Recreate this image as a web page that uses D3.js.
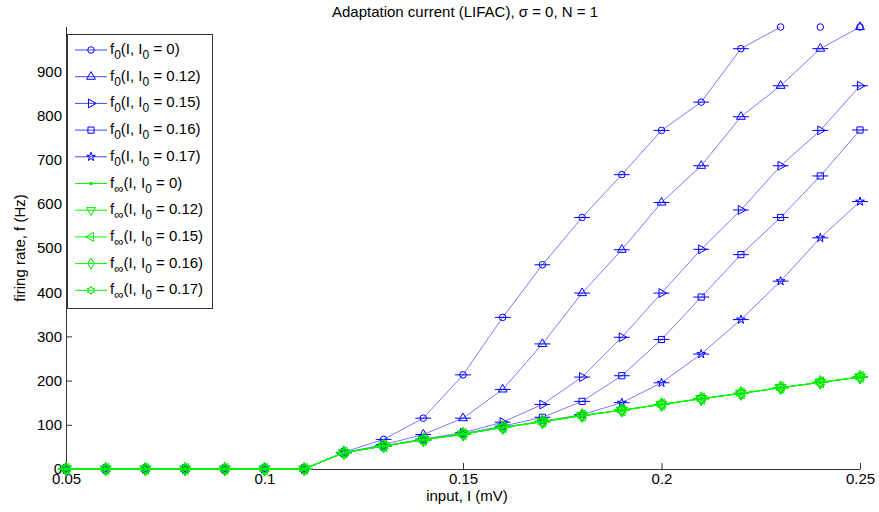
<!DOCTYPE html>
<html>
<head>
<meta charset="utf-8">
<script src="https://cdn.jsdelivr.net/npm/d3@7"></script>
<style>
  html, body { margin: 0; padding: 0; background: #fff; }
  svg { display: block; font-family: "Liberation Sans", Arial, Helvetica, sans-serif; }
</style>
</head>
<body>
<svg id="chart" width="879" height="512"></svg>
<script>
// Input current values (mV)
const inputI = [0.05, 0.06, 0.07, 0.08, 0.09, 0.10, 0.11, 0.12, 0.13, 0.14, 0.15,
                0.16, 0.17, 0.18, 0.19, 0.20, 0.21, 0.22, 0.23, 0.24, 0.25];

// Onset firing rate f0 for each adaptation offset I0 (Hz)
const f0_I0_000 = [0, 0, 0, 0, 0, 0, 0, 38, 67, 115, 213, 343, 462, 569, 666, 766, 830, 951, 1000, 1000, 1000];
const f0_I0_012 = [0, 0, 0, 0, 0, 0, 0, 37, 55, 78, 115, 180, 283, 398, 496, 603, 686, 797, 867, 951, 1000];
const f0_I0_015 = [0, 0, 0, 0, 0, 0, 0, 37, 52, 68, 82, 106, 146, 208, 298, 398, 497, 586, 686, 766, 867];
const f0_I0_016 = [0, 0, 0, 0, 0, 0, 0, 37, 52, 66, 80, 97, 117, 153, 211, 293, 389, 485, 569, 663, 767];
const f0_I0_017 = [0, 0, 0, 0, 0, 0, 0, 37, 52, 66, 79, 94, 108, 123, 150, 195, 260, 338, 425, 523, 605];

// Steady-state firing rate f_inf for each I0 (Hz)
const fInf_I0_000 = [0, 0, 0, 0, 0, 0, 0, 37, 52, 66, 79, 94, 107, 121, 133, 146, 159, 171, 184, 196, 208];
const fInf_I0_012 = [0, 0, 0, 0, 0, 0, 0, 37, 52, 66, 79, 94, 107, 121, 133, 146, 159, 171, 184, 196, 208];
const fInf_I0_015 = [0, 0, 0, 0, 0, 0, 0, 37, 52, 66, 79, 94, 107, 121, 133, 146, 159, 171, 184, 196, 208];
const fInf_I0_016 = [0, 0, 0, 0, 0, 0, 0, 37, 52, 66, 79, 94, 107, 121, 133, 146, 159, 171, 184, 196, 208];
const fInf_I0_017 = [0, 0, 0, 0, 0, 0, 0, 37, 52, 66, 79, 94, 107, 121, 133, 146, 159, 171, 184, 196, 208];

const i0Labels = ["0", "0.12", "0.15", "0.16", "0.17"];
const xTicks = [0.05, 0.1, 0.15, 0.2, 0.25];
const xTickLabels = ["0.05", "0.1", "0.15", "0.2", "0.25"];
const yTicks = [0, 100, 200, 300, 400, 500, 600, 700, 800, 900];

const series = [
  { kind: "f0",   i0: i0Labels[0], values: f0_I0_000,   marker: "circle" },
  { kind: "f0",   i0: i0Labels[1], values: f0_I0_012,   marker: "triUp" },
  { kind: "f0",   i0: i0Labels[2], values: f0_I0_015,   marker: "triRight" },
  { kind: "f0",   i0: i0Labels[3], values: f0_I0_016,   marker: "square" },
  { kind: "f0",   i0: i0Labels[4], values: f0_I0_017,   marker: "star" },
  { kind: "fInf", i0: i0Labels[0], values: fInf_I0_000, marker: "dot" },
  { kind: "fInf", i0: i0Labels[1], values: fInf_I0_012, marker: "triDown" },
  { kind: "fInf", i0: i0Labels[2], values: fInf_I0_015, marker: "triLeft" },
  { kind: "fInf", i0: i0Labels[3], values: fInf_I0_016, marker: "diamond" },
  { kind: "fInf", i0: i0Labels[4], values: fInf_I0_017, marker: "hexagram" }
];

const style = {
  f0:   { line: "#4646ff", lineOpacity: 0.8, mark: "#0000ff", cap: "#0000ff", markScale: 1 },
  fInf: { line: "#00ff00", lineOpacity: 1,   mark: "#00e600", cap: "#00f000", markScale: 1.25 }
};

const svg = d3.select("#chart");
const yMax = 1000;
const x = d3.scaleLinear().domain([0.05, 0.25]).range([66, 860]);
const y = d3.scaleLinear().domain([0, yMax]).range([469, 27]);
const capHalf = (x.domain()[1] - x.domain()[0]) / 100;

// Marker path generators
function hexagramPath(r) {
  const pts = [];
  for (let k = 0; k < 12; k++) {
    const a = -Math.PI / 2 + k * Math.PI / 6;
    const rr = k % 2 === 0 ? r : r * 0.55;
    pts.push([rr * Math.cos(a), rr * Math.sin(a)]);
  }
  return "M" + pts.map(p => p[0].toFixed(2) + "," + p[1].toFixed(2)).join("L") + "Z";
}
function drawMarker(g, type, cx, cy, color, k) {
  k = k || 1;
  const t = `translate(${cx},${cy})`;
  const sym = (s, size, rot) => g.append("path")
    .attr("d", d3.symbol(s, size * k * k)())
    .attr("transform", t + (rot ? ` rotate(${rot})` : ""))
    .attr("fill", "none").attr("stroke", color).attr("stroke-width", 1);
  switch (type) {
    case "circle":   sym(d3.symbolCircle, 34); break;
    case "triUp":    sym(d3.symbolTriangle, 34); break;
    case "triRight": sym(d3.symbolTriangle, 34, 90); break;
    case "triDown":  sym(d3.symbolTriangle, 34, 180); break;
    case "triLeft":  sym(d3.symbolTriangle, 34, -90); break;
    case "square":   sym(d3.symbolSquare, 38); break;
    case "diamond":  sym(d3.symbolDiamond, 36); break;
    case "star":     sym(d3.symbolStar, 24); break;
    case "dot":
      g.append("circle").attr("cx", cx).attr("cy", cy).attr("r", 1.8 * k).attr("fill", color);
      break;
    case "hexagram":
      g.append("path").attr("d", hexagramPath(4.2 * k)).attr("transform", t)
        .attr("fill", "none").attr("stroke", color).attr("stroke-width", 1);
      break;
  }
}

// Axes (ticks point inward)
const xAxis = d3.axisBottom(x).tickValues(xTicks)
  .tickFormat((d, i) => xTickLabels[i]).tickSizeInner(-6).tickSizeOuter(0).tickPadding(4);
const yAxis = d3.axisLeft(y).tickValues(yTicks)
  .tickSizeInner(-6).tickSizeOuter(0).tickPadding(4);

const gx = svg.append("g").attr("transform", `translate(0,${y(0)})`).call(xAxis);
const gy = svg.append("g").attr("transform", `translate(${x(0.05)},0)`).call(yAxis);
[gx, gy].forEach(g => {
  g.selectAll("path.domain").attr("stroke", "#333").attr("stroke-width", 1);
  g.selectAll(".tick line").attr("stroke", "#333");
  g.selectAll(".tick text").attr("fill", "#000").attr("font-size", 15)
    .attr("font-family", "Liberation Sans, Arial, sans-serif");
});
gy.select("path.domain").attr("d", `M0.5,${y(0)}V${y(yMax)}`);

// Data series
const plot = svg.append("g");
const seg = d3.line().x(d => x(d[0])).y(d => y(d[1]));
series.forEach(s => {
  const st = style[s.kind];
  const pts = inputI.map((xi, i) => [xi, s.values[i]]);
  const g = plot.append("g");
  // connecting line, leaving out stretches pinned at the upper limit
  let dPath = "";
  for (let i = 1; i < pts.length; i++) {
    if (pts[i - 1][1] >= yMax && pts[i][1] >= yMax) continue;
    dPath += seg([pts[i - 1], pts[i]]);
  }
  g.append("path").attr("d", dPath).attr("fill", "none")
    .attr("stroke", st.line).attr("stroke-opacity", st.lineOpacity).attr("stroke-width", 0.9);
  // error-bar caps
  pts.filter(p => p[1] < yMax).forEach(p => {
    g.append("line")
      .attr("x1", x(p[0] - capHalf)).attr("x2", x(p[0] + capHalf))
      .attr("y1", y(p[1])).attr("y2", y(p[1]))
      .attr("stroke", st.cap).attr("stroke-width", 1);
  });
  pts.forEach(p => drawMarker(g, s.marker, x(p[0]), y(p[1]), st.mark, st.markScale));
});

// Title and axis labels
svg.append("text").attr("x", 465).attr("y", 17).attr("text-anchor", "middle")
  .attr("font-size", 15).text("Adaptation current (LIFAC), σ = 0, N = 1");
svg.append("text").attr("x", 467).attr("y", 501).attr("text-anchor", "middle")
  .attr("font-size", 15).text("input, I (mV)");
svg.append("text").attr("transform", "translate(25,248) rotate(-90)")
  .attr("text-anchor", "middle").attr("font-size", 15).text("firing rate, f (Hz)");

// Legend
const lg = svg.append("g").attr("transform", "translate(67,34)");
const rowH = 26.7;
lg.append("rect").attr("x", 0.5).attr("y", 0.5).attr("width", 145).attr("height", 274)
  .attr("fill", "#fff").attr("stroke", "#333").attr("stroke-width", 1);
series.forEach((s, i) => {
  const st = style[s.kind];
  const cy = 16 + i * rowH;
  lg.append("line").attr("x1", 8).attr("x2", 40).attr("y1", cy).attr("y2", cy)
    .attr("stroke", st.line).attr("stroke-width", 1);
  drawMarker(lg, s.marker, 24, cy, st.mark);
  const t = lg.append("text").attr("x", 43).attr("y", cy + 4).attr("font-size", 15);
  t.append("tspan").text("f");
  t.append("tspan").attr("dy", 5).attr("font-size", s.kind === "f0" ? 12 : 13)
    .text(s.kind === "f0" ? "0" : "∞");
  t.append("tspan").attr("dy", -5).text("(I, I");
  t.append("tspan").attr("dy", 5).attr("font-size", 12).text("0");
  t.append("tspan").attr("dy", -5).text(" = " + s.i0 + ")");
});
</script>
</body>
</html>
